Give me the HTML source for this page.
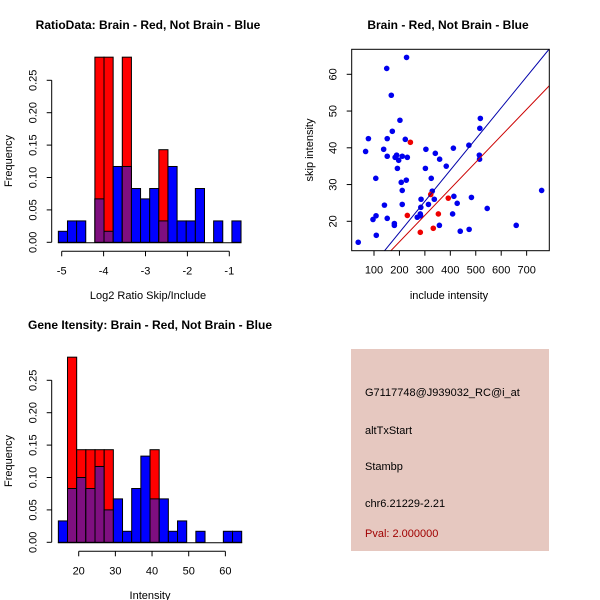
<!DOCTYPE html>
<html><head><meta charset="utf-8"><style>
body{margin:0;background:#fff}
svg{display:block;font-family:"Liberation Sans",sans-serif}
</style></head><body>
<svg id="c" width="600" height="600" viewBox="0 0 600 600">
<rect width="600" height="600" fill="#fff"/>
<text x="148" y="29" font-size="12" font-weight="bold" text-anchor="middle">RatioData: Brain - Red, Not Brain - Blue</text>
<text x="448" y="29" font-size="12" font-weight="bold" text-anchor="middle">Brain - Red, Not Brain - Blue</text>
<text x="150" y="329" font-size="12" font-weight="bold" text-anchor="middle">Gene Itensity: Brain - Red, Not Brain - Blue</text>
<text x="148" y="299" font-size="11" text-anchor="middle">Log2 Ratio Skip/Include</text>
<text x="12" y="161" font-size="11" text-anchor="middle" transform="rotate(-90 12 161)">Frequency</text>
<text x="150" y="599" font-size="11" text-anchor="middle">Intensity</text>
<text x="12" y="461" font-size="11" text-anchor="middle" transform="rotate(-90 12 461)">Frequency</text>
<text x="449" y="299" font-size="11" text-anchor="middle">include intensity</text>
<text x="313" y="150" font-size="11" text-anchor="middle" transform="rotate(-90 313 150)">skip intensity</text>
<g>
<rect x="351" y="349" width="198" height="202" fill="#e6c8c0"/>
<text x="365" y="396" font-size="11">G7117748@J939032_RC@i_at</text>
<text x="365" y="434" font-size="11">altTxStart</text>
<text x="365" y="470" font-size="11">Stambp</text>
<text x="365" y="507" font-size="11">chr6.21229-2.21</text>
<text x="365" y="537" font-size="11" fill="#a00000">Pval: 2.000000</text>
</g>
</svg>
<script>
const ratioBlue=[0.017,0.033,0.033,0,0.067,0.017,0.117,0.117,0.083,0.067,0.083,0.033,0.117,0.033,0.033,0.083,0,0.033,0,0.033];
const ratioRed=[0,0,0,0,0.2857,0.2857,0,0.2857,0,0,0,0.1429,0,0,0,0,0,0,0,0];
const ratioStart=-5.08, ratioWidth=0.218;
const ratioTicks=[-5,-4,-3,-2,-1];
const intBlue=[0.033,0.083,0.1,0.083,0.117,0.05,0.067,0.017,0.083,0.133,0.067,0.067,0.017,0.033,0,0.017,0,0,0.017,0.017];
const intRed=[0,0.2857,0.1429,0.1429,0.1429,0.1429,0,0,0,0,0.1429,0,0,0,0,0,0,0,0,0];
const intStart=14.45, intWidth=2.5;
const intTicks=[20,30,40,50,60];
const freqTicks=[0,0.05,0.10,0.15,0.20,0.25];
const freqLabels=["0.00","0.05","0.10","0.15","0.20","0.25"];
const blueX=[38,67,78,96,108,109,107,138,141,150,152,152,152,168,172,180,180,183,189,192,197,202,207,211,211,211,223,228,227,231,270,282,283,285,284,302,304,314,325,329,337,341,357,358,384,409,412,414,427,439,473,474,483,514,515,516,518,545,659,759];
const blueY=[14.3,39.0,42.5,20.5,21.5,16.2,31.7,39.6,24.4,61.6,42.5,37.7,20.8,54.3,44.5,19.4,18.9,37.4,38.0,34.4,36.6,47.5,30.6,37.7,28.4,24.6,42.3,64.6,31.2,37.4,21.1,22.0,21.5,26.0,23.8,34.4,39.6,24.6,31.7,28.2,26.0,38.5,18.9,36.9,35.0,22.0,39.9,26.8,24.9,17.3,40.7,17.8,26.5,38.0,36.9,45.3,48.0,23.5,18.9,28.4];
const redX=[243,231,282,323,333,353,392];
const redY=[41.5,21.6,17.0,27.3,18.1,22.0,26.3];
const scatterXTicks=[100,200,300,400,500,600,700];
const scatterYTicks=[20,30,40,50,60];
const blueSlope=0.0848, redSlope=0.0721;

const NS="http://www.w3.org/2000/svg";
const svg=document.getElementById('c');
function mk(tag,attrs,parent){const e=document.createElementNS(NS,tag);for(const k in attrs)e.setAttribute(k,attrs[k]);(parent||svg).appendChild(e);return e;}

function hist(blue,red,start,width,ticks,x0,xs,y0,ys,prefix){
  const g=mk('g',{});
  
  
  const X=v=>x0+(v-ticks[0])*xs, Y=v=>y0-v*ys;
  for(let i=0;i<blue.length;i++){
    const a=start+i*width,b=a+width, xa=X(a), w=X(b)-xa;
    const bv=blue[i], rv=red[i], m=Math.min(bv,rv);
    if(bv>0){const r=mk('rect',{x:xa,y:Y(bv),width:w,height:Y(0)-Y(bv),fill:'#0000ff',stroke:'#000','stroke-width':1},g);
      
      }
    if(rv>0){const r=mk('rect',{x:xa,y:Y(rv),width:w,height:Y(0)-Y(rv),fill:'#ff0000',stroke:'#000','stroke-width':1},g);
      
      }
    if(m>0){const r=mk('rect',{x:xa,y:Y(m),width:w,height:Y(0)-Y(m),fill:'#7f0f80',stroke:'#000','stroke-width':1},g);
      
      }
  }
  const ax=mk('g',{},g);
  
  
  const axX=51.7;
  mk('line',{x1:X(start)-0.5,x2:X(start+width*blue.length)+0.5,y1:Y(0)+0.5,y2:Y(0)+0.5,stroke:'#000'},ax);
  mk('line',{x1:axX,x2:axX,y1:Y(0),y2:Y(0.25),stroke:'#000'},ax);
  freqTicks.forEach((t,i)=>{
    mk('line',{x1:axX-5,x2:axX,y1:Y(t),y2:Y(t),stroke:'#000'},ax);
    const lx=axX-15;
    const tx=mk('text',{x:lx,y:Y(t),'font-size':11,'text-anchor':'middle',transform:`rotate(-90 ${lx} ${Y(t)})`},ax);
    tx.textContent=freqLabels[i];
  });
  const yb=Y(0)+9;
  mk('line',{x1:X(ticks[0]),x2:X(ticks[ticks.length-1]),y1:yb,y2:yb,stroke:'#000'},ax);
  ticks.forEach(t=>{
    mk('line',{x1:X(t),x2:X(t),y1:yb,y2:yb+5,stroke:'#000'},ax);
    const tx=mk('text',{x:X(t),y:yb+23,'font-size':11,'text-anchor':'middle'},ax);
    tx.textContent=t;
  });
}
hist(ratioBlue,ratioRed,ratioStart,ratioWidth,ratioTicks,61.7,41.9,242.3,648,'ratio');
hist(intBlue,intRed,intStart,intWidth,intTicks,78.7,3.667,542.3,648,'intensity');

const sg=mk('g',{});


const SX=v=>374+(v-100)*0.2544, SY=v=>221.3-(v-20)*3.675;
const L=351.7,R=549.3,T=49.3,B=250.7;
const cp=mk('clipPath',{id:'sc'},sg); mk('rect',{x:L,y:T,width:R-L,height:B-T},cp);
function abline(slope,col,name){
  const xa=100+(L-374)/0.2544, xb=100+(R-374)/0.2544;
  const l=mk('line',{x1:SX(xa),y1:SY(slope*xa),x2:SX(xb),y2:SY(slope*xb),stroke:col,'stroke-width':1,'clip-path':'url(#sc)'},sg);
  
  
}
blueX.forEach((x,i)=>{const c=mk('circle',{cx:SX(x),cy:SY(blueY[i]),r:2.8,fill:'#0000ee'},sg);
  
  });
redX.forEach((x,i)=>{const c=mk('circle',{cx:SX(x),cy:SY(redY[i]),r:2.8,fill:'#ee0000'},sg);
  
  });
abline(blueSlope,'#0000aa','blue-fit-line');
abline(redSlope,'#cc0000','red-fit-line');
const box=mk('rect',{x:L,y:T,width:R-L,height:B-T,fill:'none',stroke:'#000'},sg);


scatterXTicks.forEach(t=>{
  mk('line',{x1:SX(t),x2:SX(t),y1:B,y2:B+5,stroke:'#000'},sg);
  const tx=mk('text',{x:SX(t),y:B+23,'font-size':11,'text-anchor':'middle'},sg); tx.textContent=t;
});
scatterYTicks.forEach(t=>{
  mk('line',{x1:L-5,x2:L,y1:SY(t),y2:SY(t),stroke:'#000'},sg);
  const lx=L-15;
  const tx=mk('text',{x:lx,y:SY(t),'font-size':11,'text-anchor':'middle',transform:`rotate(-90 ${lx} ${SY(t)})`},sg); tx.textContent=t;
});
</script>
</body></html>
